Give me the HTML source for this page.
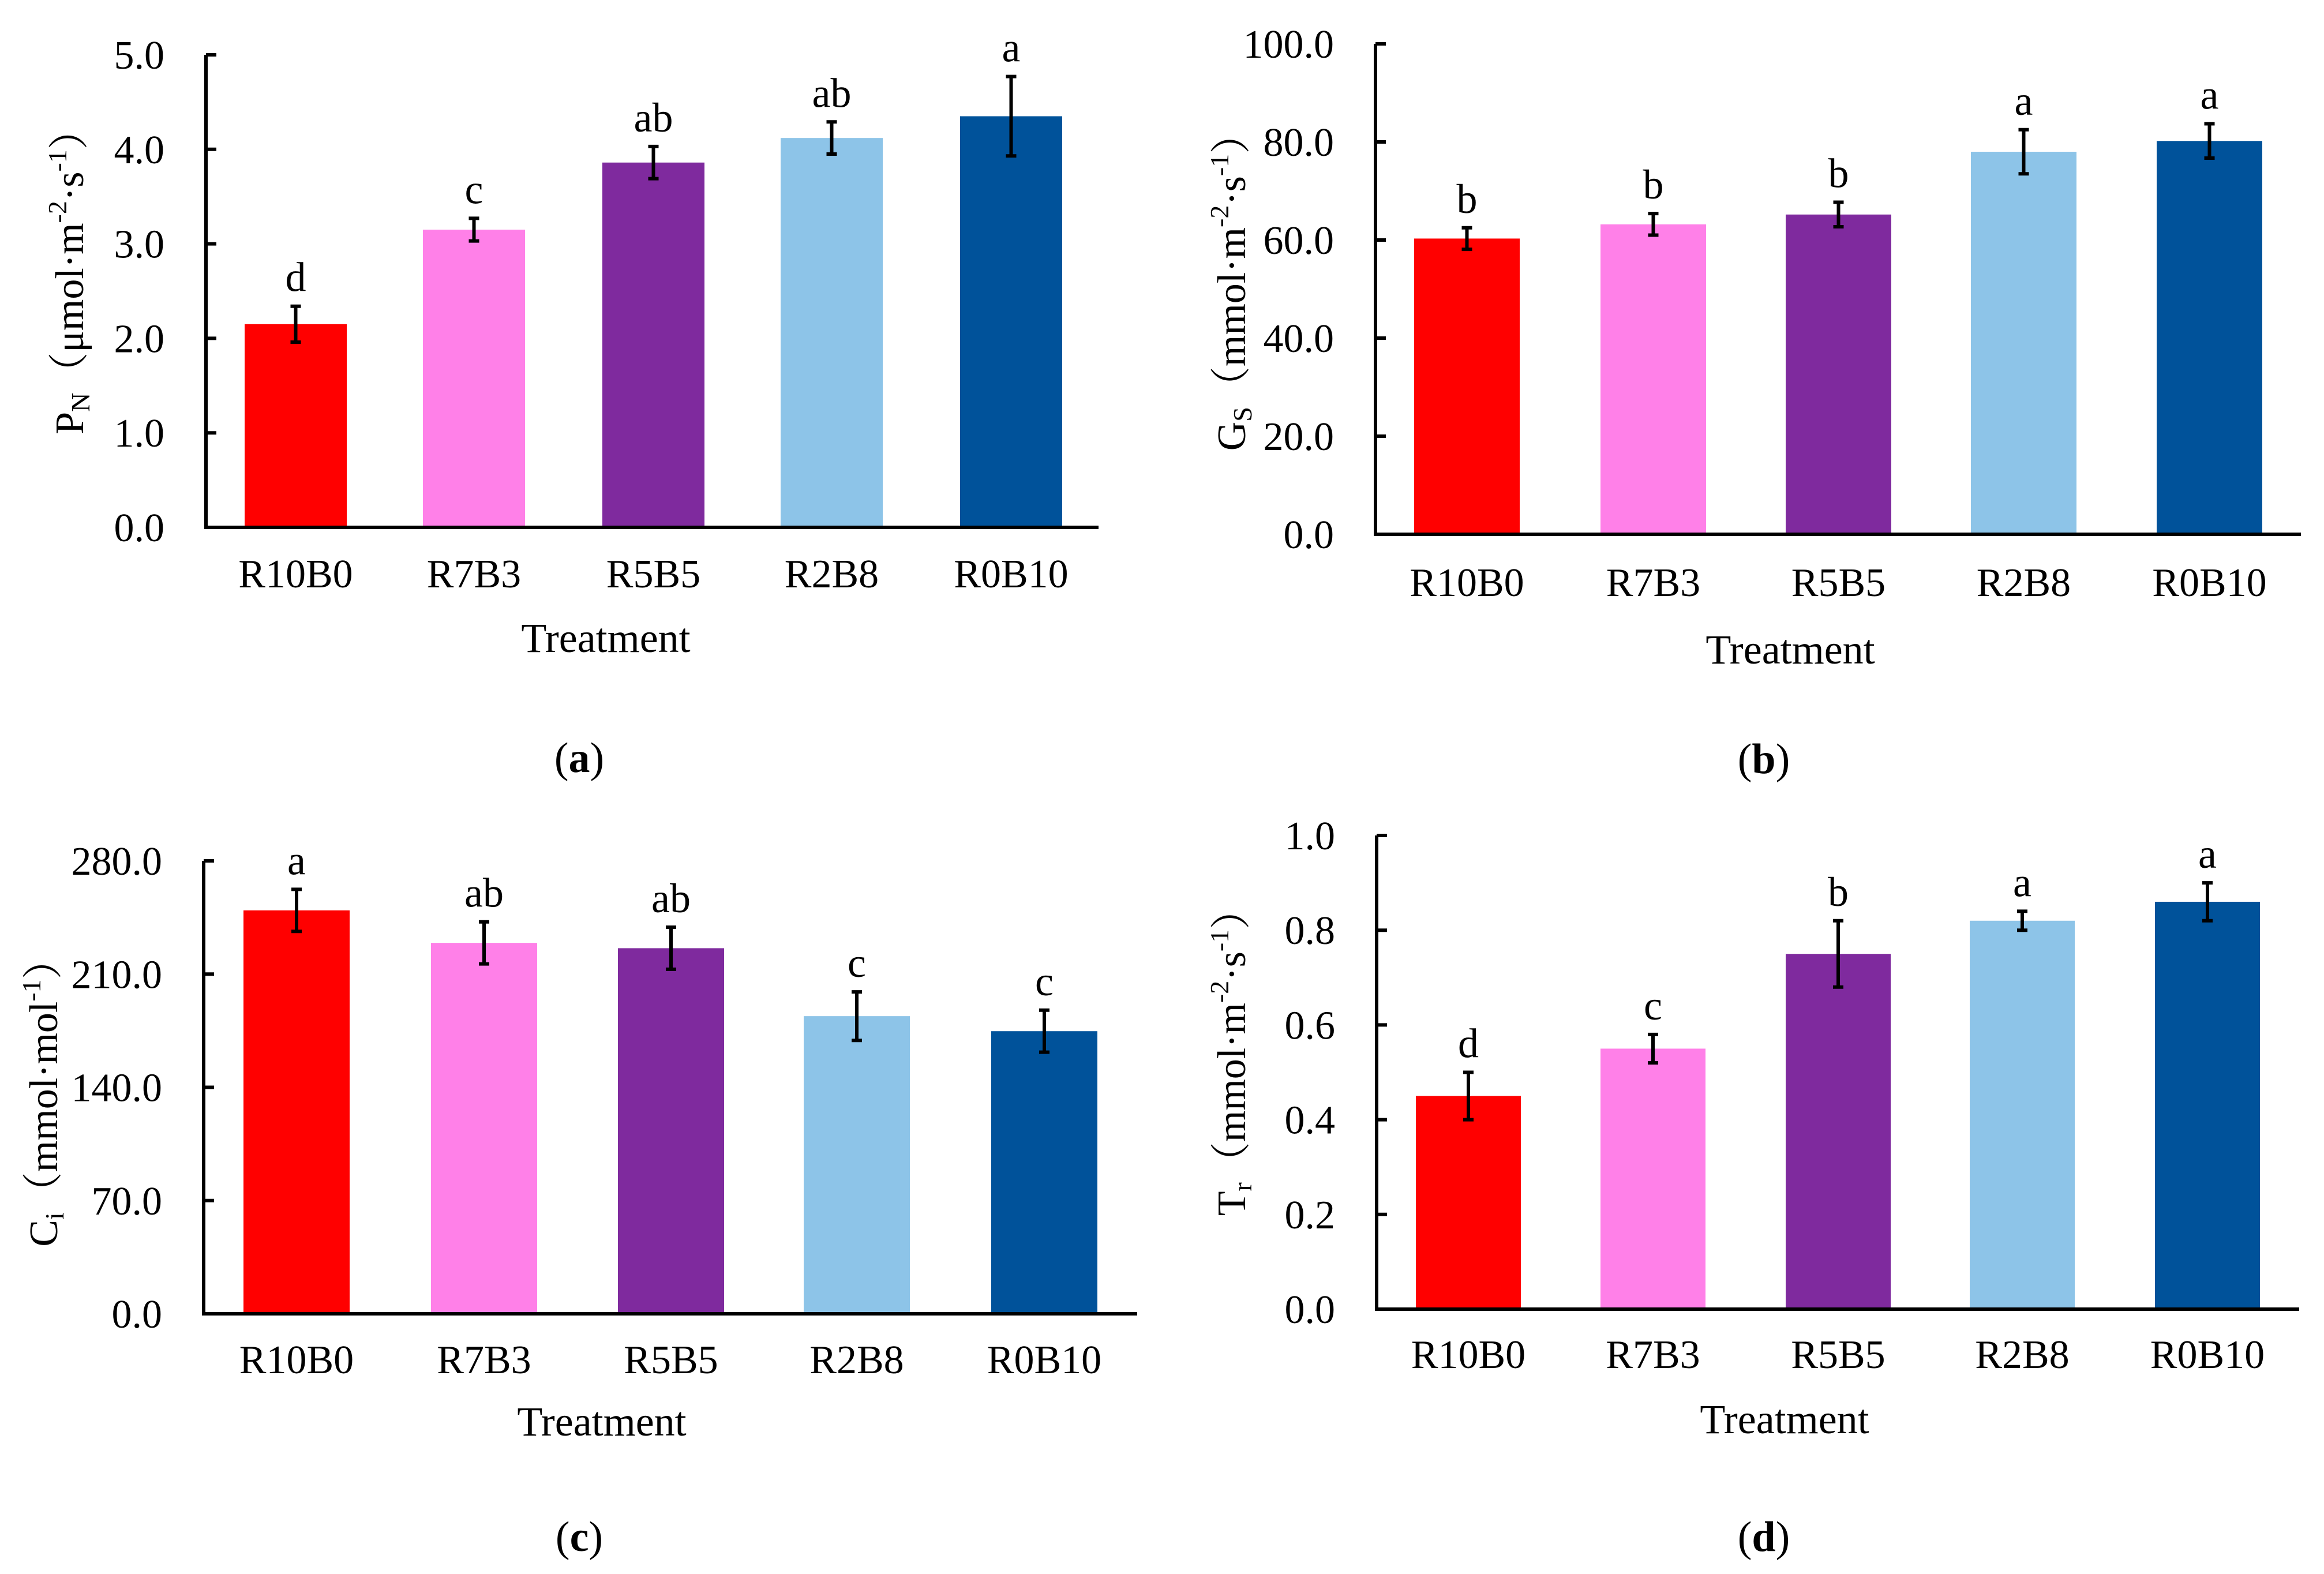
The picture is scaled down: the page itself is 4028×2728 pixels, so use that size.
<!DOCTYPE html>
<html><head><meta charset="utf-8"><style>
html,body{margin:0;padding:0;background:#fff}
svg{display:block}
text{font-family:"Liberation Serif","Noto Serif CJK SC",serif}
</style></head><body>
<svg id="fig" width="4028" height="2728" viewBox="0 0 4028 2728" xmlns="http://www.w3.org/2000/svg" font-family="Liberation Serif, Noto Serif CJK SC, serif"></svg>
<script>
const categories = ["R10B0","R7B3","R5B5","R2B8","R0B10"];
const colors = ["#FF0000","#FF80E8","#7F2A9E","#8DC4E8","#00529A"];
const pnValues = [2.15,3.15,3.86,4.12,4.35];
const pnErrors = [0.19,0.12,0.17,0.17,0.42];
const pnLetters = ["d","c","ab","ab","a"];
const pnTicks = ["0.0","1.0","2.0","3.0","4.0","5.0"];
const gsValues = [60.3,63.2,65.2,78.0,80.2];
const gsErrors = [2.2,2.2,2.5,4.5,3.5];
const gsLetters = ["b","b","b","a","a"];
const gsTicks = ["0.0","20.0","40.0","60.0","80.0","100.0"];
const ciValues = [249.4,229.3,226.0,184.0,174.7];
const ciErrors = [13,13,13,15,13];
const ciLetters = ["a","ab","ab","c","c"];
const ciTicks = ["0.0","70.0","140.0","210.0","280.0"];
const trValues = [0.45,0.55,0.75,0.82,0.86];
const trErrors = [0.05,0.03,0.07,0.02,0.04];
const trLetters = ["d","c","b","a","a"];
const trTicks = ["0.0","0.2","0.4","0.6","0.8","1.0"];

const NS="http://www.w3.org/2000/svg";
const FF='"Liberation Serif","Noto Serif CJK SC",serif';
const svg=document.getElementById('fig');
function mk(tag,attrs,parent){const e=document.createElementNS(NS,tag);for(const k in attrs)e.setAttribute(k,attrs[k]);if(tag==='text')e.setAttribute('style','font-family:'+FF);(parent||svg).appendChild(e);return e;}

const panels=[
 {id:"a",vals:pnValues,errs:pnErrors,letters:pnLetters,ticks:pnTicks,max:5,x0:357,y0:914,y1:95,x1:1904,bx:[424,733,1044,1353,1664],bw:177,catY:1018,trX:1050,trY:1130,lbX:1004,lbY:1338,tX:128,tY:471,title:[["P",""],["N","sub"],["（μmol·m",""],["-2","sup"],["·s",""],["-1","sup"],["）",""]]},
 {id:"b",vals:gsValues,errs:gsErrors,letters:gsLetters,ticks:gsTicks,max:100,x0:2384,y0:926,y1:76,x1:3988,bx:[2451,2774,3095,3416,3738],bw:183,catY:1033,trX:3103,trY:1150,lbX:3057,lbY:1340,tX:2142,tY:489,title:[["G",""],["S","sub"],["（mmol·m",""],["-2","sup"],["·s",""],["-1","sup"],["）",""]]},
 {id:"c",vals:ciValues,errs:ciErrors,letters:ciLetters,ticks:ciTicks,max:280,x0:353,y0:2277,y1:1492,x1:1971,bx:[422,747,1071,1393,1718],bw:184,catY:2380,trX:1043,trY:2488,lbX:1004,lbY:2688,tX:83,tY:1894,title:[["C",""],["i","sub"],["（mmol·mol",""],["-1","sup"],["）",""]]},
 {id:"d",vals:trValues,errs:trErrors,letters:trLetters,ticks:trTicks,max:1,x0:2386,y0:2269,y1:1448,x1:3985,bx:[2454,2774,3095,3414,3735],bw:182,catY:2371,trX:3093,trY:2484,lbX:3057,lbY:2688,tX:2142,tY:1824,title:[["T",""],["r","sub"],["（mmol·m",""],["-2","sup"],["·s",""],["-1","sup"],["）",""]]}
];

panels.forEach(p=>{
 const g=mk('g',{});
 
 
 const y=v=>p.y0-(v/p.max)*(p.y0-p.y1);
 p.vals.forEach((v,i)=>{
  const r=mk('rect',{x:p.bx[i],y:y(v),width:p.bw,height:p.y0-y(v),fill:colors[i]},g);
  
  
  const cx=p.bx[i]+p.bw/2, yt=y(v+p.errs[i]), yb=y(v-p.errs[i]);
  const eb=mk('path',{d:`M${cx},${yt}V${yb}M${cx-9},${yt}H${cx+9}M${cx-9},${yb}H${cx+9}`,stroke:"#000","stroke-width":6,fill:"none"},g);
  
  
  const lt=mk('text',{x:cx,y:yt-26,"text-anchor":"middle","font-size":72},g);
  lt.textContent=p.letters[i];
  
  
  const ct=mk('text',{x:cx,y:p.catY,"text-anchor":"middle","font-size":70},g);
  ct.textContent=categories[i];
  
  
 });
 const ax=mk('path',{d:`M${p.x0},${p.y1}V${p.y0}H${p.x1}`,stroke:"#000","stroke-width":6,fill:"none"},g);
 
 
 const n=p.ticks.length-1;
 p.ticks.forEach((t,k)=>{
  const ty=y(p.max*k/n);
  const tk=mk('line',{x1:p.x0,x2:p.x0+18,y1:ty,y2:ty,stroke:"#000","stroke-width":6},g);
  
  
  const tl=mk('text',{x:p.x0-72,y:ty+24,"text-anchor":"end","font-size":70},g);
  tl.textContent=t;
  
  
 });
 const tr=mk('text',{x:p.trX,y:p.trY,"text-anchor":"middle","font-size":72},g);
 tr.textContent="Treatment";
 
 
 const lb=mk('text',{x:p.lbX,y:p.lbY,"text-anchor":"middle","font-size":74},g);
 lb.appendChild(document.createTextNode("("));
 const bb=mk('tspan',{"font-weight":"bold"},lb); bb.textContent=p.id;
 lb.appendChild(document.createTextNode(")"));
 
 
 const yt=mk('text',{x:p.tX,y:p.tY,"text-anchor":"middle","font-size":70,transform:`rotate(-90 ${p.tX} ${p.tY})`,"dominant-baseline":"middle"},g);
 
 
 let off=0;
 p.title.forEach(([s,kind])=>{
  const ts=mk('tspan',{},yt);
  let want=0;
  if(kind==="sub"){ts.setAttribute('font-size',46);want=16;}
  else if(kind==="sup"){ts.setAttribute('font-size',46);want=-24;}
  ts.setAttribute('dy',want-off);off=want;
  ts.textContent=s;
 });
});
</script>
</body></html>
